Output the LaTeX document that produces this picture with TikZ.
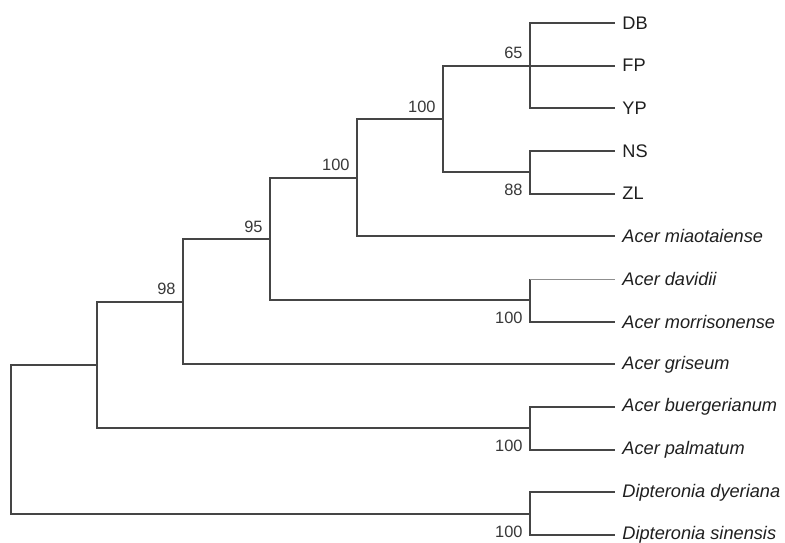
\documentclass[tikz,border=0pt]{standalone}
\usepackage{fontspec}
\setmainfont{Liberation Sans}
\usepackage{tikz}
\definecolor{treegray}{HTML}{454545}
\tikzset{
	branch/.style={draw=treegray, line width=0.9pt},
	taxon/.style={anchor=west, inner xsep=3.5pt, inner ysep=0pt, text=black!88, font=\fontsize{9.1}{10}\selectfont},
	boot/.style={inner sep=1pt, text=black!78, font=\fontsize{8.2}{9}\selectfont},
}

\begin{document}
\begin{tikzpicture}[x=0.5pt, y=-0.5pt]

		\useasboundingbox (0,0) rectangle (785,542);

		% taxa
		\node[taxon] (DB) at (615,23) {DB};
		\node[taxon] (FP) at (615,65.7) {FP};
		\node[taxon] (YP) at (615,108.3) {YP};
		\node[taxon] (NS) at (615,151) {NS};
		\node[taxon] (ZL) at (615,193.7) {ZL};
		\node[taxon] (miao) at (615,236.3) {\textit{Acer miaotaiense}};
		\node[taxon] (davi) at (615,279) {\textit{Acer davidii}};
		\node[taxon] (morr) at (615,321.7) {\textit{Acer morrisonense}};
		\node[taxon] (gris) at (615,364.3) {\textit{Acer griseum}};
		\node[taxon] (buer) at (615,407) {\textit{Acer buergerianum}};
		\node[taxon] (palm) at (615,449.7) {\textit{Acer palmatum}};
		\node[taxon] (dyer) at (615,492.3) {\textit{Dipteronia dyeriana}};
		\node[taxon] (sine) at (615,535) {\textit{Dipteronia sinensis}};

		% internal nodes
		\coordinate (root) at (11,439);
		\coordinate (acer) at (97,365);
		\coordinate (n98) at (183,301.7);
		\coordinate (n95) at (270,239);
		\coordinate (nmiao) at (357,177.7);
		\coordinate (nlocal) at (443,119);
		\coordinate (n65) at (530,65.7);
		\coordinate (n88) at (530,172.3);
		\coordinate (ndavi) at (530,300.3);
		\coordinate (nbuer) at (530,428.3);
		\coordinate (ndipt) at (530,513.7);

		% branches
		\draw[branch] (root) |- (acer);
		\draw[branch] (root) |- (ndipt);
		\draw[branch] (acer) |- (n98);
		\draw[branch] (acer) |- (nbuer);
		\draw[branch] (n98) |- (n95);
		\draw[branch] (n98) |- (gris.west);
		\draw[branch] (n95) |- (nmiao);
		\draw[branch] (n95) |- (ndavi);
		\draw[branch] (nmiao) |- (nlocal);
		\draw[branch] (nmiao) |- (miao.west);
		\draw[branch] (nlocal) |- (n65);
		\draw[branch] (nlocal) |- (n88);
		\draw[branch] (n65) |- (DB.west);
		\draw[branch] (n65) -- (FP.west);
		\draw[branch] (n65) |- (YP.west);
		\draw[branch] (n88) |- (NS.west);
		\draw[branch] (n88) |- (ZL.west);
		\draw[branch] (ndavi) |- (morr.west);
		\draw[branch] (ndavi) -- (ndavi |- davi.west);
		\draw[draw=treegray!60, line width=0.45pt] (ndavi |- davi.west) -- (davi.west);
		\draw[branch] (nbuer) |- (buer.west);
		\draw[branch] (nbuer) |- (palm.west);
		\draw[branch] (ndipt) |- (dyer.west);
		\draw[branch] (ndipt) |- (sine.west);

		% support values
		\node[boot, anchor=south east, xshift=-2.5pt, yshift=2.2pt] (s65) at (n65) {65};
		\node[boot, anchor=south east, xshift=-2.5pt, yshift=2.2pt] (slocal) at (nlocal) {100};
		\node[boot, anchor=south east, xshift=-2.5pt, yshift=2.2pt] (smiao) at (nmiao) {100};
		\node[boot, anchor=south east, xshift=-2.5pt, yshift=2.2pt] (s95) at (n95) {95};
		\node[boot, anchor=south east, xshift=-2.5pt, yshift=2.2pt] (s98) at (n98) {98};
		\node[boot, anchor=east, xshift=-2.5pt, yshift=1.8pt] (s88) at (n88 |- ZL.west) {88};
		\node[boot, anchor=east, xshift=-2.5pt, yshift=1.8pt] (sdavi) at (ndavi |- morr.west) {100};
		\node[boot, anchor=east, xshift=-2.5pt, yshift=1.8pt] (sbuer) at (nbuer |- palm.west) {100};
		\node[boot, anchor=east, xshift=-2.5pt, yshift=1.8pt] (sdipt) at (ndipt |- sine.west) {100};
	\end{tikzpicture}
\end{document}
